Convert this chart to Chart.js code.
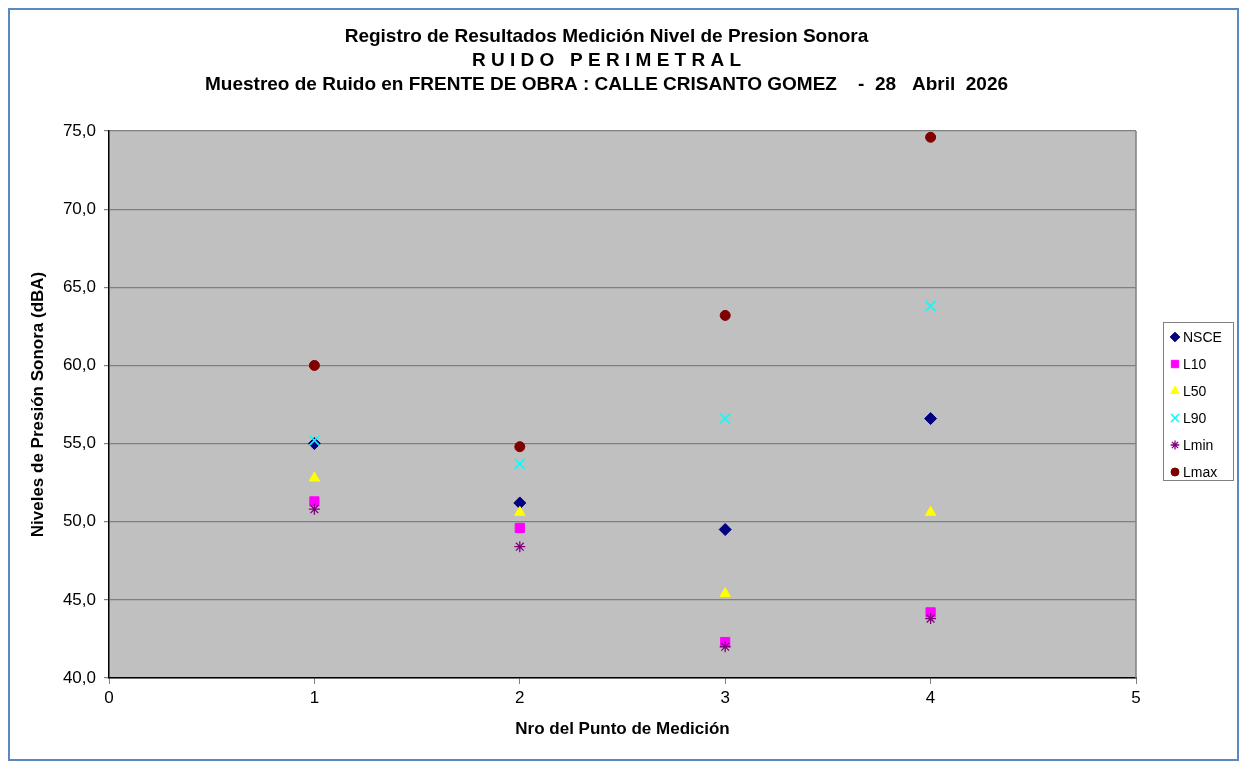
<!DOCTYPE html>
<html>
<head>
<meta charset="utf-8">
<script src="https://cdn.jsdelivr.net/npm/chart.js@4.4.1/dist/chart.umd.min.js"></script>
<style>
  html, body { margin: 0; padding: 0; background: #fff; }
  #wrap { position: relative; width: 1241px; height: 762px; }
  #frame { position: absolute; left: 8px; top: 8px; width: 1227px; height: 749px; border: 2px solid #5B87C2; pointer-events: none; }
  canvas { position: absolute; left: 0; top: 0; }
</style>
</head>
<body>
<div id="wrap">
  <canvas id="chart" width="1241" height="762"></canvas>
  <div id="frame"></div>
</div>
<script>
const points = [1, 2, 3, 4];
const seriesNames = ["NSCE", "L10", "L50", "L90", "Lmin", "Lmax"];
const nsce = [55.0, 51.2, 49.5, 56.6];
const l10  = [51.3, 49.6, 42.3, 44.2];
const l50  = [52.8, 50.6, 45.4, 50.6];
const l90  = [55.2, 53.7, 56.6, 63.8];
const lmin = [50.8, 48.4, 42.0, 43.8];
const lmax = [60.0, 54.8, 63.2, 74.6];
const titleLines = [
    "Registro de Resultados Medición Nivel de Presion Sonora",
    "R U I D O   P E R I M E T R A L",
    "Muestreo de Ruido en FRENTE DE OBRA : CALLE CRISANTO GOMEZ    -  28   Abril  2026"
];

const FONT = "'Liberation Sans', Arial, sans-serif";

const styles = [
    {pointStyle: "rectRot",  color: "#000080", radius: 6,   bw: 1},
    {pointStyle: "rect",     color: "#FF00FF", radius: 6.5, bw: 1},
    {pointStyle: "triangle", color: "#FFFF00", radius: 6,   bw: 1},
    {pointStyle: "crossRot", color: "#00FFFF", radius: 7,   bw: 1.6},
    {pointStyle: "star",     color: "#800080", radius: 5.5, bw: 1.3},
    {pointStyle: "circle",   color: "#800000", radius: 5,   bw: 1}
];

const values = [nsce, l10, l50, l90, lmin, lmax];

const datasets = values.map((vals, i) => ({
    label: seriesNames[i],
    data: points.map((p, j) => ({x: p, y: vals[j]})),
    showLine: false,
    pointStyle: styles[i].pointStyle,
    pointRadius: styles[i].radius,
    pointBorderWidth: styles[i].bw,
    pointBackgroundColor: styles[i].color,
    pointBorderColor: styles[i].color,
    order: 10 - i
}));

// grey plot background and right border
const plotBg = {
    id: "plotBg",
    beforeDraw(chart){
        const {ctx, chartArea: a} = chart;
        ctx.save();
        ctx.fillStyle = "#C0C0C0";
        ctx.fillRect(a.left, a.top, a.right - a.left, a.bottom - a.top);
        ctx.restore();
    },
    afterDatasetsDraw(chart){
        const {ctx, chartArea: a} = chart;
        ctx.save();
        ctx.strokeStyle = "#808080";
        ctx.lineWidth = 1.5;
        ctx.beginPath();
        ctx.moveTo(a.right, a.top);
        ctx.lineTo(a.right, a.bottom);
        ctx.stroke();
        ctx.restore();
    }
};

// boxed legend at the right
const boxLegend = {
    id: "boxLegend",
    afterDraw(chart){
        const ctx = chart.ctx;
        const x0 = 1163, y0 = 322, w = 70, h = 158;
        ctx.save();
        ctx.fillStyle = "#fff";
        ctx.fillRect(x0, y0, w, h);
        ctx.strokeStyle = "#808080";
        ctx.lineWidth = 1;
        ctx.strokeRect(x0 + 0.5, y0 + 0.5, w, h);
        ctx.font = "14px " + FONT;
        ctx.textBaseline = "middle";
        chart.data.datasets.forEach((ds, i) => {
            const y = y0 + 15 + i * 27;
            ctx.fillStyle = styles[i].color;
            ctx.strokeStyle = styles[i].color;
            ctx.lineWidth = styles[i].bw;
            Chart.helpers.drawPoint(ctx, {
                pointStyle: styles[i].pointStyle,
                radius: styles[i].radius * 0.8,
                borderWidth: styles[i].bw,
                rotation: 0
            }, x0 + 12, y);
            ctx.fillStyle = "#000";
            ctx.fillText(ds.label, x0 + 20, y + 1);
        });
        ctx.restore();
    }
};

new Chart(document.getElementById("chart"), {
    type: "scatter",
    data: {datasets},
    options: {
        responsive: false,
        animation: false,
        layout: {padding: {left: 20, right: 48, top: 0, bottom: 0}},
        plugins: {
            legend: {display: false},
            tooltip: {enabled: false},
            title: {
                display: true,
                text: titleLines,
                color: "#000",
                font: {family: FONT, size: 19, weight: "bold", lineHeight: "24px"},
                padding: {top: 25, bottom: 34}
            }
        },
        scales: {
            x: {
                type: "linear",
                min: 0,
                max: 5,
                afterFit(s){ s.height = 84; },
                ticks: {
                    stepSize: 1,
                    color: "#000",
                    font: {family: FONT, size: 17},
                    padding: 4,
                    callback: v => String(v)
                },
                grid: {drawOnChartArea: false, tickLength: 6, tickColor: "#808080"},
                border: {color: "#000", width: 1.5},
                title: {
                    display: true,
                    text: "Nro del Punto de Medición",
                    color: "#000",
                    font: {family: FONT, size: 17, weight: "bold"},
                    padding: {top: 0, bottom: 22}
                }
            },
            y: {
                min: 40,
                max: 75,
                afterFit(s){ s.width = 89; },
                ticks: {
                    stepSize: 5,
                    color: "#000",
                    font: {family: FONT, size: 17},
                    padding: 8,
                    callback: v => v.toFixed(1).replace(".", ",")
                },
                grid: {color: "#808080", lineWidth: 1.2, tickLength: 5, tickColor: "#808080"},
                border: {color: "#000", width: 1.5},
                title: {
                    display: true,
                    text: "Niveles de Presión Sonora (dBA)",
                    color: "#000",
                    font: {family: FONT, size: 17, weight: "bold"},
                    padding: {top: 8, bottom: 0}
                }
            },
            // empty right-hand scale that reserves the room where the legend box sits
            legendSpace: {
                type: "linear",
                position: "right",
                display: true,
                afterFit(s){ s.width = 57; },
                ticks: {display: false},
                grid: {display: false, drawOnChartArea: false, drawTicks: false},
                border: {display: false}
            }
        }
    },
    plugins: [plotBg, boxLegend]
});
</script>
</body>
</html>
